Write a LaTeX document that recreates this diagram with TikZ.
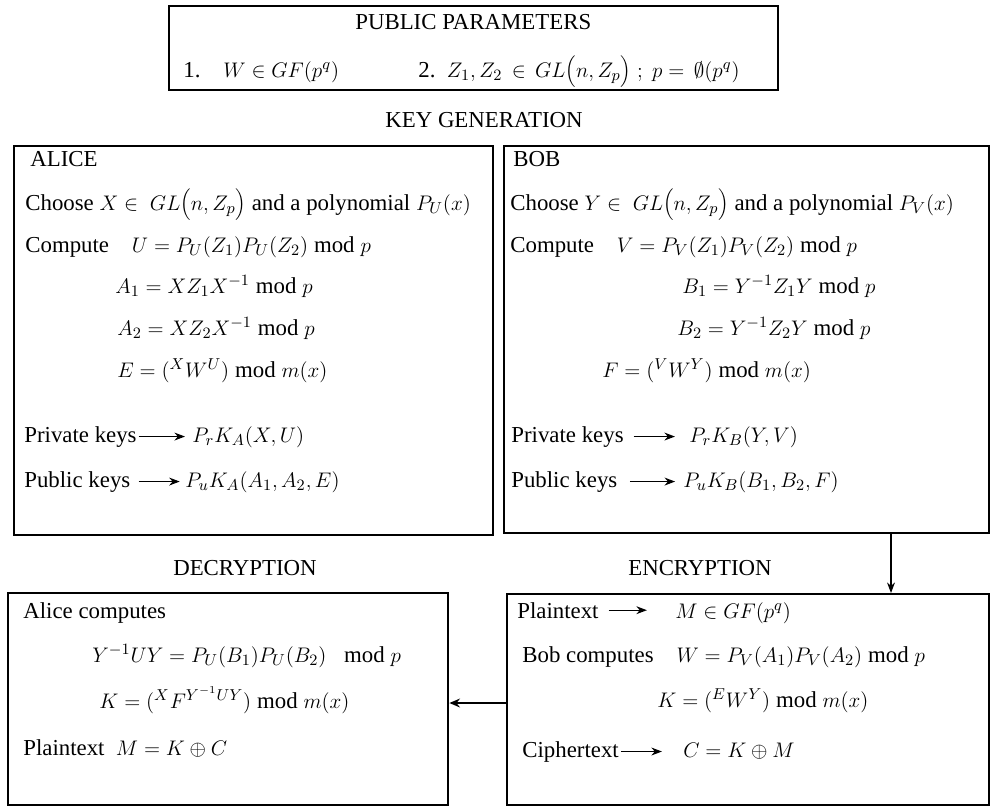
\documentclass[tikz,border=0pt]{standalone}
\usepackage{fontspec}
\setmainfont{Liberation Serif}
\usetikzlibrary{arrows.meta, positioning}

\begin{document}
\begin{tikzpicture}[
    x=0.02cm, y=-0.02cm,
    font=\fontsize{13}{15}\selectfont,
    box/.style 2 args={
        rectangle, draw, line width=1.4pt, inner sep=0pt,
        anchor=north west, minimum width=#1, minimum height=#2
    },
    txt/.style={anchor=base west, inner sep=0pt},
    head/.style={anchor=base, inner sep=0pt},
    karr/.style={-{Stealth[length=6pt, width=4.5pt]}, line width=0.7pt},
    arr/.style={-{Stealth[length=6pt, width=5pt]}, line width=1.3pt},
    thinarr/.style={-{Stealth[length=6pt, width=4.5pt]}, line width=0.6pt}
]
\useasboundingbox (0,0) rectangle (991,806);

% ===================================================================
% PUBLIC PARAMETERS
% ===================================================================
\node[box={12.18cm}{1.68cm}] (params) at (168,5) {};
\node[txt] (pptitle) at (355,29) {PUBLIC PARAMETERS};
\node[txt] (pp1) at (183,77) {1.\quad $W \in GF(p^q)$};
\node[txt] (pp2) at (418,77)
    {2.\ \ $Z_1, Z_2 \,\in\, GL\Bigl(n, Z_p\Bigr)\;;\; p =\, \emptyset(p^q)$};

\node[head] (keygen) at (484,127) {KEY GENERATION};

% ===================================================================
% ALICE
% ===================================================================
\node[box={9.58cm}{7.78cm}] (alice) at (13,145) {};
\node[txt] (alicehd) at (30,166) {ALICE};
\node[txt] (achoose) at (25,210)
    {Choose $X \in\; GL\Bigl(n, Z_p\Bigr)$ and a polynomial $P_U(x)$};
\node[txt] (acompute) at (25,252)
    {Compute\quad $U = P_U(Z_1)P_U(Z_2) \bmod p$};
\node[txt] (aA1) at (115,293) {$A_1 = XZ_1X^{-1} \bmod p$};
\node[txt] (aA2) at (117,335) {$A_2 = XZ_2X^{-1} \bmod p$};
\node[txt] (aE) at (117,377) {$E = ({}^{X}W^{U}) \bmod m(x)$};
\node[txt] (aprivlbl) at (24,442) {Private keys};
\node[txt] (aprivkey) at (192,442) {$P_rK_A(X, U)$};
\node[txt] (apublbl) at (24,487) {Public keys};
\node[txt] (apubkey) at (185,487) {$P_uK_A(A_1, A_2, E)$};

% ===================================================================
% BOB
% ===================================================================
\node[box={9.70cm}{7.74cm}] (bob) at (503,145) {};
\node[txt] (bobhd) at (513,166) {BOB};
\node[txt] (bchoose) at (510,210)
    {Choose $Y \in\; GL\Bigl(n, Z_p\Bigr)$ and a polynomial $P_V(x)$};
\node[txt] (bcompute) at (510,252)
    {Compute\quad $V = P_V(Z_1)P_V(Z_2) \bmod p$};
\node[txt] (bB1) at (682,293) {$B_1 = Y^{-1}Z_1Y \bmod p$};
\node[txt] (bB2) at (677,335) {$B_2 = Y^{-1}Z_2Y \bmod p$};
\node[txt] (bF) at (602,377) {$F = ({}^{V}W^{Y}) \bmod m(x)$};
\node[txt] (bprivlbl) at (511,442) {Private keys};
\node[txt] (bprivkey) at (689,442) {$P_rK_B(Y, V)$};
\node[txt] (bpublbl) at (511,487) {Public keys};
\node[txt] (bpubkey) at (683,487) {$P_uK_B(B_1, B_2, F)$};

% ===================================================================
% DECRYPTION
% ===================================================================
\node[head] (dechd) at (245,575) {DECRYPTION};
\node[box={8.80cm}{4.24cm}] (dec) at (7,592) {};
\node[txt] (dcomp) at (23,618) {Alice computes};
\node[txt] (dyuy) at (92,662)
    {$Y^{-1}UY = P_U(B_1)P_U(B_2)\;\; \bmod p$};
\node[txt] (dK) at (99,708) {$K = ({}^{X}F^{Y^{-1}UY}) \bmod m(x)$};
\node[txt] (dplain) at (23,755) {Plaintext\ \ $M = K \oplus C$};

% ===================================================================
% ENCRYPTION
% ===================================================================
\node[head] (enchd) at (700,575) {ENCRYPTION};
\node[box={9.64cm}{4.22cm}] (enc) at (506,593) {};
\node[txt] (eplainlbl) at (517,618) {Plaintext};
\node[txt] (eM) at (675,618) {$M \in GF(p^q)$};
\node[txt] (ecomp) at (522,662)
    {Bob computes\quad $W = P_V(A_1)P_V(A_2) \bmod p$};
\node[txt] (eK) at (657,707) {$K = ({}^{E}W^{Y}) \bmod m(x)$};
\node[txt] (ecipherlbl) at (522,757) {Ciphertext};
\node[txt] (eC) at (683,757) {$C = K \oplus M$};

% ===================================================================
% ARROWS
% ===================================================================
\draw[karr, shorten <=1pt, shorten >=4pt]
    (aprivlbl.east) -- (aprivlbl.east -| aprivkey.west);
\draw[karr, shorten <=4.5pt, shorten >=3pt]
    (apublbl.east) -- (apublbl.east -| apubkey.west);
\draw[karr, shorten <=5.5pt, shorten >=8pt]
    (bprivlbl.east) -- (bprivlbl.east -| bprivkey.west);
\draw[karr, shorten <=7pt, shorten >=4.5pt]
    (bpublbl.east) -- (bpublbl.east -| bpubkey.west);
\draw[karr, shorten <=5.5pt, shorten >=16pt]
    (eplainlbl.east) -- (eplainlbl.east -| eM.west);
\draw[karr, shorten <=1pt, shorten >=12pt]
    (ecipherlbl.east) -- (ecipherlbl.east -| eC.west);

\coordinate (drop) at (891,0);
\coordinate (kline) at (0,703);
\draw[thinarr] (bob.south -| drop) -- (enc.north -| drop);
\draw[arr] (enc.west |- kline) -- (dec.east |- kline);

\end{tikzpicture}
\end{document}
